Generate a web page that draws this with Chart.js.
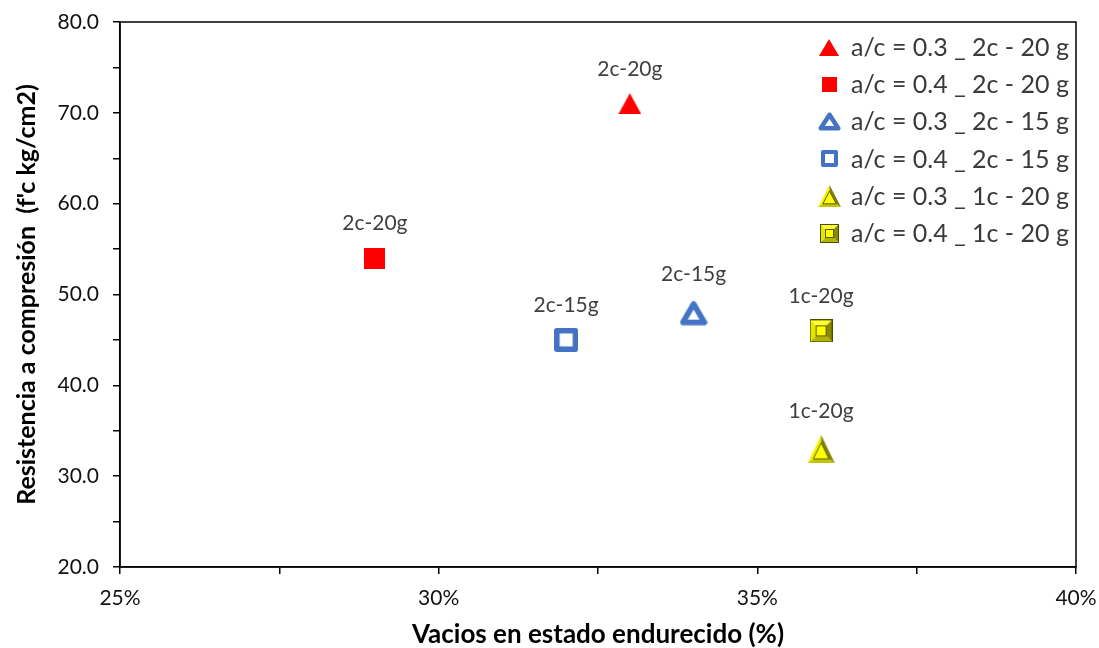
<!DOCTYPE html>
<html>
<head>
<meta charset="utf-8">
<script src="https://cdn.jsdelivr.net/npm/chart.js@4/dist/chart.umd.min.js"></script>
<style>
  html, body { margin: 0; padding: 0; background: #fff; }
  #wrap { width: 1099px; height: 648px; }
</style>
</head>
<body>
<div id="wrap"><canvas id="c" width="1099" height="648"></canvas></div>
<script>
// Series: water/cement ratio, layers and fibre dosage
const seriesNames = [
  'a/c = 0.3 _ 2c - 20 g',
  'a/c = 0.4 _ 2c - 20 g',
  'a/c = 0.3 _ 2c - 15 g',
  'a/c = 0.4 _ 2c - 15 g',
  'a/c = 0.3 _ 1c - 20 g',
  'a/c = 0.4 _ 1c - 20 g'
];
// Hardened-state voids (%) per series
const voidsPct = [33, 29, 34, 32, 36, 36];
// Compressive strength f'c (kg/cm2) per series
const strength = [71, 54, 48, 45, 33, 46];
// Text shown above each point
const pointLabels = ['2c-20g', '2c-20g', '2c-15g', '2c-15g', '1c-20g', '1c-20g'];

// Axis ranges and titles
const xRange = [25, 40];
const yRange = [20, 80];
const xTitle = 'Vacios en estado endurecido (%)';
const yTitle = "Resistencia a compresión  (f'c kg/cm2)";

const RED = '#ff0000';
const BLUE = '#4472c4';

function makeCanvas(w, h, draw) {
  const c = document.createElement('canvas');
  c.width = w; c.height = h;
  draw(c.getContext('2d'), w, h);
  return c;
}

function redTriangle(w, h) {
  return makeCanvas(w, h, (g) => {
    g.fillStyle = RED;
    g.beginPath(); g.moveTo(w / 2, 0); g.lineTo(w, h); g.lineTo(0, h); g.closePath(); g.fill();
  });
}
function redSquare(s) {
  return makeCanvas(s, s, (g) => { g.fillStyle = RED; g.fillRect(0, 0, s, s); });
}
function blueTriangle(w, h, lw) {
  return makeCanvas(w, h, (g) => {
    const p = lw / 2 + 0.5;
    g.strokeStyle = BLUE; g.lineWidth = lw; g.lineJoin = 'round';
    g.fillStyle = '#fff';
    g.beginPath(); g.moveTo(w / 2, p + 1); g.lineTo(w - p, h - p); g.lineTo(p, h - p); g.closePath();
    g.fill(); g.stroke();
  });
}
function blueSquare(s, lw) {
  return makeCanvas(s, s, (g) => {
    const p = lw / 2;
    g.strokeStyle = BLUE; g.lineWidth = lw; g.lineJoin = 'round';
    g.fillStyle = '#fff';
    g.beginPath(); g.rect(p, p, s - lw, s - lw); g.fill(); g.stroke();
  });
}
// Bevelled yellow markers
function bevelSquare(s) {
  return makeCanvas(s, s, (g) => {
    const b = Math.round(s * 0.24);
    const quad = (pts, col) => {
      g.fillStyle = col; g.beginPath(); g.moveTo(pts[0], pts[1]);
      for (let i = 2; i < pts.length; i += 2) g.lineTo(pts[i], pts[i + 1]);
      g.closePath(); g.fill();
    };
    quad([0, 0, s, 0, s - b, b, b, b], '#ffff33');          // top
    quad([0, 0, b, b, b, s - b, 0, s], '#e6e600');          // left
    quad([s, 0, s, s, s - b, s - b, s - b, b], '#8a8a00');  // right
    quad([0, s, b, s - b, s - b, s - b, s, s], '#b3b300');  // bottom
    g.fillStyle = '#ffff00'; g.fillRect(b, b, s - 2 * b, s - 2 * b);
    g.strokeStyle = '#5a5a00'; g.lineWidth = 1;
    g.strokeRect(b + 0.5, b + 0.5, s - 2 * b - 1, s - 2 * b - 1);
    g.strokeStyle = '#4d4d00'; g.strokeRect(0.5, 0.5, s - 1, s - 1);
  });
}
function bevelTriangle(w, h) {
  return makeCanvas(w, h, (g) => {
    const top = [w / 2, 0], br = [w, h], bl = [0, h];
    const cx = w / 2, cy = h * 0.66, k = 0.42;
    const inner = [top, br, bl].map(p => [p[0] + (cx - p[0]) * k, p[1] + (cy - p[1]) * k]);
    const poly = (pts, col) => {
      g.fillStyle = col; g.beginPath(); g.moveTo(pts[0][0], pts[0][1]);
      for (let i = 1; i < pts.length; i++) g.lineTo(pts[i][0], pts[i][1]);
      g.closePath(); g.fill();
    };
    poly([top, bl, inner[2], inner[0]], '#f5f500');   // left face
    poly([top, br, inner[1], inner[0]], '#7f7f00');   // right face
    poly([bl, br, inner[1], inner[2]], '#c4c400');    // bottom face
    poly(inner, '#ffff00');
    g.strokeStyle = '#5a5a00'; g.lineWidth = 1;
    g.beginPath(); g.moveTo(inner[0][0], inner[0][1]); g.lineTo(inner[1][0], inner[1][1]);
    g.lineTo(inner[2][0], inner[2][1]); g.closePath(); g.stroke();
  });
}

// Plot markers and the smaller legend versions
const plotMarkers = [
  redTriangle(23, 21), redSquare(21), blueTriangle(28, 26, 5.5),
  blueSquare(24, 5.5), bevelTriangle(27, 28), bevelSquare(23)
];
const legendMarkers = [
  redTriangle(20, 17), redSquare(15), blueTriangle(23, 20, 4.5),
  blueSquare(17, 4), bevelTriangle(23, 22), bevelSquare(19)
];

const datasets = seriesNames.map((name, i) => ({
  label: name,
  data: [{ x: voidsPct[i], y: strength[i] }],
  pointStyle: plotMarkers[i],
  pointRadius: 12,
  pointHoverRadius: 12
}));

const UI_FONT = 'Lato, "Open Sans", sans-serif';

// Frame around the plot area, value labels and the in-plot legend
const decorations = {
  id: 'decorations',
  afterDatasetsDraw(chart) {
    const { ctx, chartArea: a } = chart;
    ctx.save();
    ctx.strokeStyle = '#000'; ctx.lineWidth = 1.5;
    ctx.strokeRect(a.left, a.top, a.right - a.left, a.bottom - a.top);

    ctx.fillStyle = '#404040';
    ctx.font = '21px ' + UI_FONT;
    ctx.textAlign = 'center'; ctx.textBaseline = 'middle';
    chart.data.datasets.forEach((ds, i) => {
      const el = chart.getDatasetMeta(i).data[0];
      const off = (i === 2 || i === 4) ? 38 : 35;
      ctx.fillText(pointLabels[i], el.x, el.y - off);
    });

    ctx.font = '25px ' + UI_FONT;
    ctx.textAlign = 'left'; ctx.fillStyle = '#3a3a3a';
    chart.data.datasets.forEach((ds, i) => {
      const y = 47 + i * 37.2;
      const m = legendMarkers[i];
      ctx.drawImage(m, Math.round(829 - m.width / 2), Math.round(y - m.height / 2));
      ctx.fillText(ds.label, 851, y + 1);
    });
    ctx.restore();
  }
};

new Chart(document.getElementById('c'), {
  type: 'scatter',
  data: { datasets },
  options: {
    responsive: false,
    animation: false,
    layout: { padding: { left: 0, right: 23, top: 22, bottom: 0 } },
    plugins: { legend: { display: false }, tooltip: { enabled: false } },
    scales: {
      x: {
        type: 'linear', min: xRange[0], max: xRange[1],
        afterFit(s) { s.height = 81; s.paddingLeft = 0; s.paddingRight = 0; },
        border: { display: true, color: '#000', width: 1.5 },
        grid: { drawOnChartArea: false, drawTicks: true, tickLength: 7, color: '#000', lineWidth: 1.5 },
        ticks: {
          stepSize: 2.5, padding: 12, color: '#111',
          font: { family: UI_FONT, size: 21 },
          callback: (v) => (v % 5 === 0 ? v + '%' : '')
        },
        title: {
          display: true, text: xTitle, color: '#000', padding: { top: 4, bottom: 0 },
          font: { family: UI_FONT, size: 26, weight: 'bold', lineHeight: 1 }
        }
      },
      y: {
        type: 'linear', min: yRange[0], max: yRange[1],
        afterFit(s) { s.width = 120; s.paddingTop = 0; s.paddingBottom = 0; },
        border: { display: true, color: '#000', width: 1.5 },
        grid: { drawOnChartArea: false, drawTicks: true, tickLength: 7, color: '#000', lineWidth: 1.5 },
        ticks: {
          stepSize: 5, padding: 14, color: '#111',
          font: { family: UI_FONT, size: 21 },
          callback: (v) => (v % 10 === 0 ? v.toFixed(1) : '')
        },
        title: {
          display: true, text: yTitle, color: '#000', padding: { top: 12, bottom: 4 },
          font: { family: UI_FONT, size: 25, weight: 'bold' }
        }
      }
    }
  },
  plugins: [decorations]
});
</script>
</body>
</html>
